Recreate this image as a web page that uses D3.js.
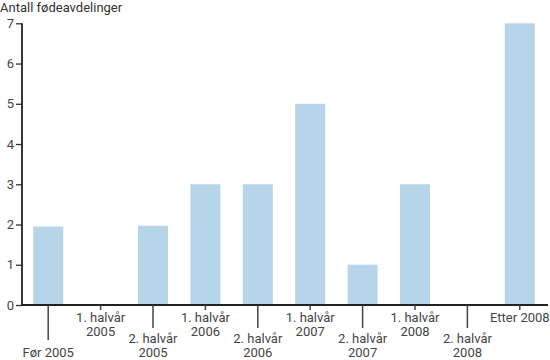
<!DOCTYPE html>
<html><head><meta charset="utf-8">
<script src="https://cdn.jsdelivr.net/npm/d3@7"></script>
<style>body{margin:0;background:#fff}svg{display:block}text{font-family:Roboto,"DejaVu Sans",sans-serif}</style>
</head><body><svg id="c" width="550" height="360"></svg>
<script>
const categories = ["Før 2005","1. halvår 2005","2. halvår 2005","1. halvår 2006","2. halvår 2006","1. halvår 2007","2. halvår 2007","1. halvår 2008","2. halvår 2008","Etter 2008"];
const labelLines = [["Før 2005"],["1. halvår","2005"],["2. halvår","2005"],["1. halvår","2006"],["2. halvår","2006"],["1. halvår","2007"],["2. halvår","2007"],["1. halvår","2008"],["2. halvår","2008"],["Etter 2008"]];
const values = [1.95, 0, 1.97, 3, 3, 5, 1, 3, 0, 7];
const yTicks = [0,1,2,3,4,5,6,7];
const yTitle = "Antall fødeavdelinger";

const svg = d3.select("#c");
const x0 = 22, x1 = 546, yBase = 305, yTop = 23.3;
const x = d3.scaleBand().domain(categories).range([x0, x1]).paddingInner(0.427).paddingOuter(0.2135);
const y = d3.scaleLinear().domain([0, 7]).range([yBase, yTop]);

svg.append("text").attr("x", 0).attr("y", 12).attr("font-size", 13).attr("fill", "#333").text(yTitle);

svg.append("g").selectAll("rect").data(values).join("rect")
  .attr("x", (d,i) => x(categories[i]))
  .attr("width", x.bandwidth())
  .attr("y", d => y(d))
  .attr("height", d => yBase - y(d))
  .attr("fill", "#b7d5e8");

// y axis
const yAxis = svg.append("g").attr("transform", `translate(${x0},0)`)
  .call(d3.axisLeft(y).tickValues(yTicks).tickSize(6).tickPadding(2).tickFormat(d3.format("d")));
yAxis.select(".domain").remove();
yAxis.selectAll(".tick line").attr("stroke", "#333").attr("stroke-width", 1.3);
yAxis.selectAll(".tick text").attr("font-size", 13).attr("fill", "#444").attr("font-family", "Roboto, sans-serif");
svg.append("line").attr("x1", x0).attr("x2", x0).attr("y1", yTop).attr("y2", yBase).attr("stroke", "#222").attr("stroke-width", 1.8);
svg.append("line").attr("x1", x0 - 1).attr("x2", 548).attr("y1", yBase).attr("y2", yBase).attr("stroke", "#222").attr("stroke-width", 1.8);

// x ticks and labels
const xg = svg.append("g");
categories.forEach((c, i) => {
  const cx = x(c) + x.bandwidth() / 2;
  const even = i % 2 === 0;
  const len = i === 0 ? 35 : (even ? 23 : 5);
  xg.append("line").attr("x1", cx).attr("x2", cx).attr("y1", yBase).attr("y2", yBase + len)
    .attr("stroke", "#444").attr("stroke-width", 1.5);
  const lines = labelLines[i];
  let baseY;
  if (even) baseY = lines.length === 1 ? 357 : 343;
  else baseY = 322;
  lines.forEach((t, j) => {
    xg.append("text").attr("x", cx).attr("y", baseY + j * 13.5).attr("text-anchor", "middle")
      .attr("font-size", 13).attr("fill", "#444").text(t);
  });
});
</script></body></html>
